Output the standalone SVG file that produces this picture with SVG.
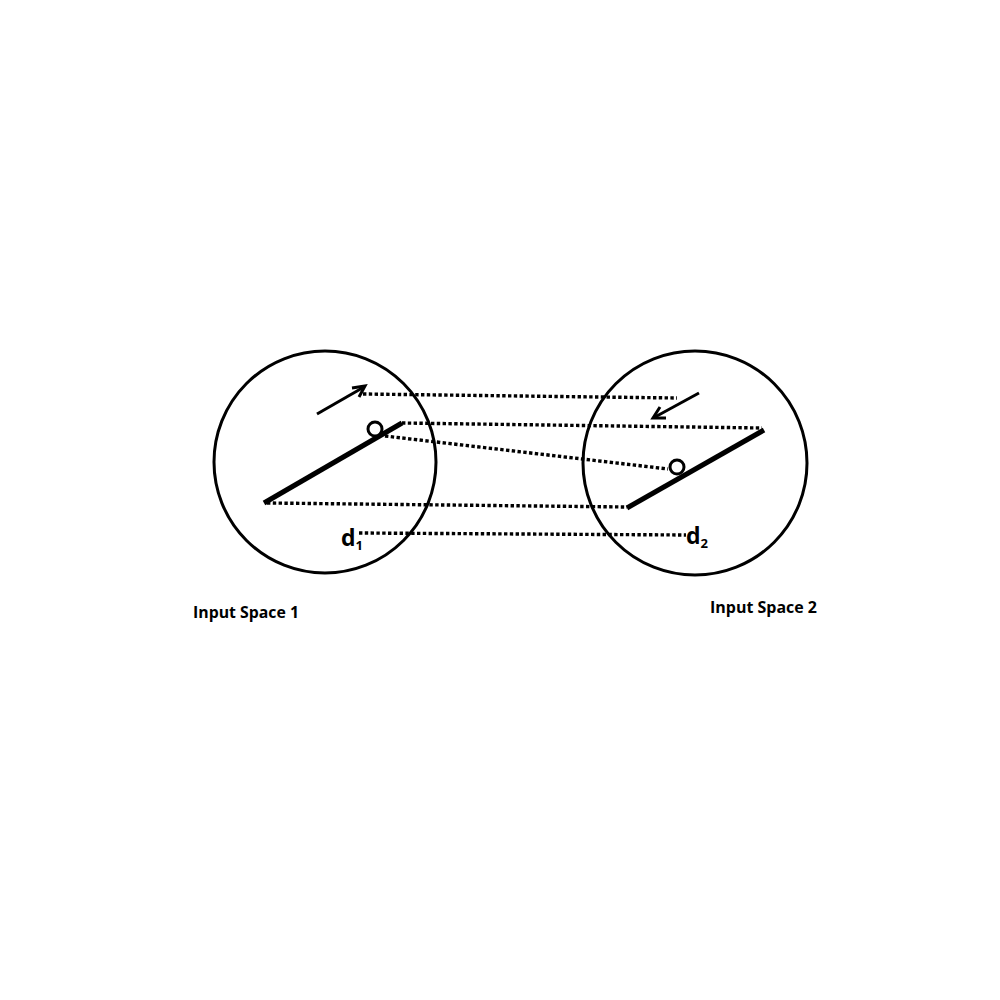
<svg xmlns="http://www.w3.org/2000/svg" width="1000" height="1000" viewBox="0 0 1000 1000">
<style>
.space{fill:none;stroke:#000;stroke-width:3}
.bar{stroke:#000;stroke-width:5;stroke-linecap:butt}
.dot{fill:#fff;stroke:#000;stroke-width:3}
.arrow{fill:none;stroke:#000;stroke-width:3}
.link{fill:none;stroke:#000;stroke-width:3.4;stroke-dasharray:3.4 2.4}
.lbl{font-family:"Open Sans","Liberation Sans",sans-serif;font-weight:700;fill:#000}
</style>
<rect width="1000" height="1000" fill="#fff"/>
<g id="connectors">
<line class="link" x1="363" y1="394" x2="677" y2="398"/>
<line class="link" x1="402" y1="423" x2="762" y2="428"/>
<line class="link" x1="385" y1="436" x2="668" y2="469"/>
<line class="link" x1="267" y1="503" x2="627" y2="507"/>
<line class="link" x1="359" y1="533" x2="686" y2="535"/>
</g>
<g id="space1">
<circle class="space" cx="325" cy="462" r="111"/>
<line class="bar" x1="264" y1="503" x2="402" y2="423"/>
<circle class="dot" cx="375" cy="429" r="7"/>
<line class="arrow" x1="317" y1="414" x2="364" y2="387"/>
<polyline class="arrow" points="352,388 365,386 359,397"/>
<text class="lbl" x="341" y="546" font-size="23">d<tspan font-size="13" dy="4">1</tspan></text>
<text class="lbl" x="193" y="618" font-size="16.5" textLength="106" lengthAdjust="spacingAndGlyphs">Input Space 1</text>
</g>
<g id="space2">
<circle class="space" cx="695" cy="463" r="112"/>
<line class="bar" x1="627" y1="508" x2="764" y2="430"/>
<circle class="dot" cx="677" cy="467" r="7"/>
<line class="arrow" x1="699" y1="393" x2="655" y2="417"/>
<polyline class="arrow" points="666,418 653,418 660,407"/>
<text class="lbl" x="686" y="544" font-size="23">d<tspan font-size="13" dy="4">2</tspan></text>
<text class="lbl" x="710" y="613" font-size="16.5" textLength="107" lengthAdjust="spacingAndGlyphs">Input Space 2</text>
</g>
</svg>
